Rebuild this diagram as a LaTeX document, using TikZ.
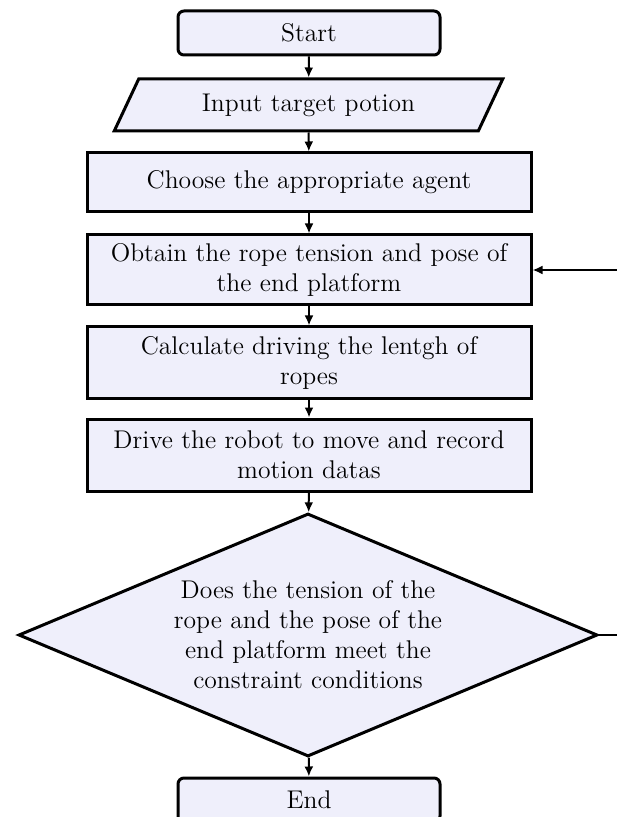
\documentclass[tikz,border=0pt]{standalone}
\usetikzlibrary{shapes.geometric,arrows.meta}
\definecolor{boxfill}{RGB}{239,239,251}
\begin{document}
\begin{tikzpicture}[x=0.5pt,y=-0.5pt,
  base/.style={draw=black,line width=1.5pt,fill=boxfill,font=\fontsize{12.8}{15}\selectfont,align=center,inner sep=0pt},
  termbox/.style={base,rectangle,rounded corners=3pt,minimum width=131pt,minimum height=22pt},
  iobox/.style={base,trapezium,trapezium left angle=56,trapezium right angle=124,trapezium stretches=true,minimum width=194.5pt,minimum height=26pt},
  procbox/.style={base,rectangle,minimum width=222pt},
  decbox/.style={base,diamond,minimum width=289.5pt,minimum height=121.5pt,aspect=2.38},
  arr/.style={line width=1pt,-{Latex[length=5pt,width=4.5pt]}}
]
\useasboundingbox (0,0) rectangle (616,817);
\node[termbox] (start) at (309,33) {Start};
\node[iobox] (input) at (308.5,105) {Input target potion};
\node[procbox,minimum height=29.5pt] (agent) at (309,182.5) {Choose the appropriate agent};
\node[procbox,minimum height=35pt] (obtain) at (309,270) {Obtain the rope tension and pose of\\the end platform};
\node[procbox,minimum height=35.5pt] (calc) at (309,362.5) {Calculate driving the lentgh of\\ropes};
\node[procbox,minimum height=36pt] (drive) at (309,455) {Drive the robot to move and record\\motion datas};
\node[decbox] (dec) at (308,635) {Does the tension of the\\rope and the pose of the\\end platform meet the\\constraint conditions};
\node[termbox] (end) at (309,800) {End};
\coordinate (loop) at (650,635);
\draw[arr] (start) -- (input);
\draw[arr] (input) -- (agent);
\draw[arr] (agent) -- (obtain);
\draw[arr] (obtain) -- (calc);
\draw[arr] (calc) -- (drive);
\draw[arr] (drive) -- (dec);
\draw[arr] (dec) -- (end);
\draw[arr] (dec.east) -- (loop) |- (obtain.east);
\end{tikzpicture}
\end{document}
